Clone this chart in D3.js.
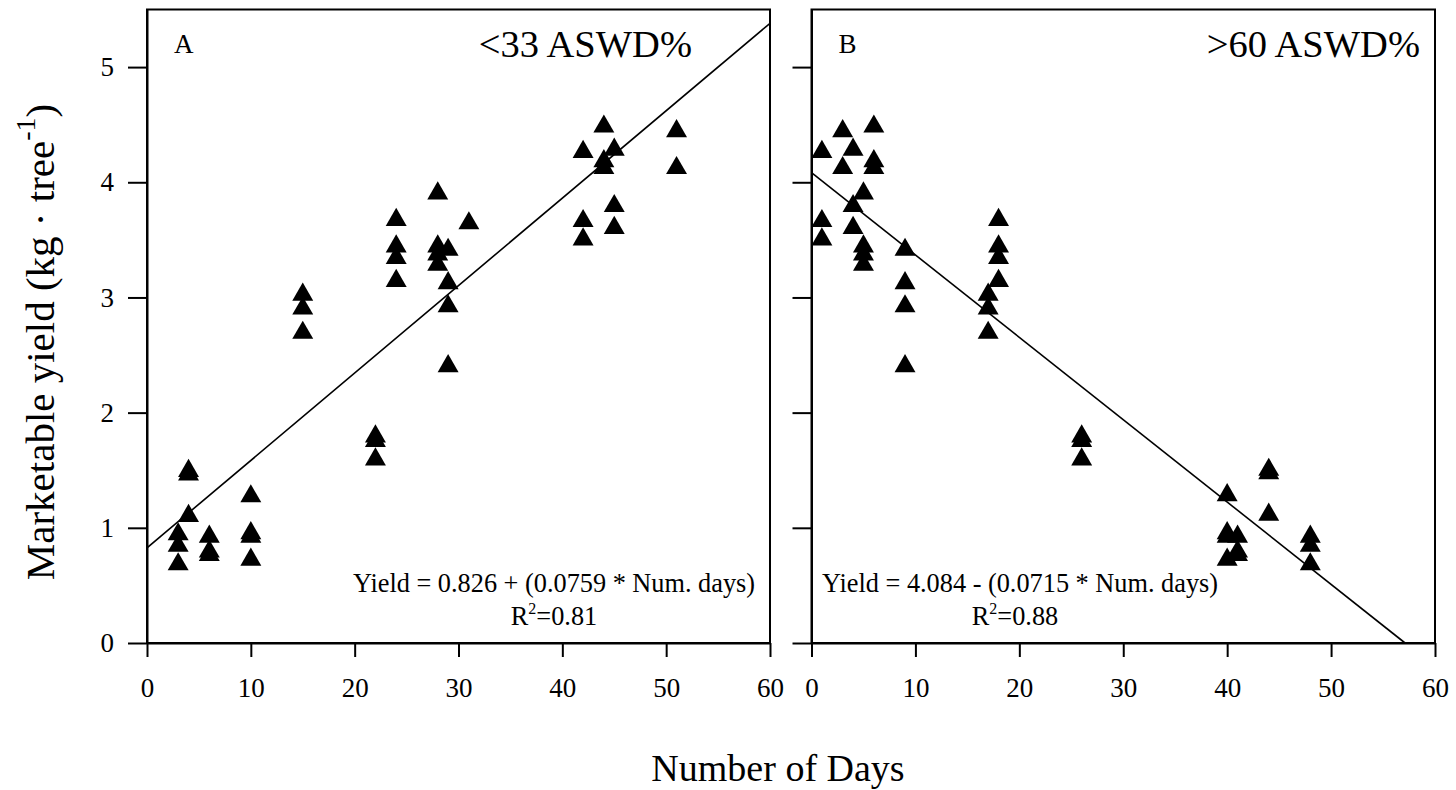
<!DOCTYPE html>
<html>
<head>
<meta charset="utf-8">
<script src="https://cdn.jsdelivr.net/npm/d3@7"></script>
<style>
  body { margin: 0; background: #fff; }
  text { font-family: "Liberation Serif", "Times New Roman", serif; fill: #000; }
</style>
</head>
<body>
<div class="chart"></div>
<script>
// panel A: <33 ASWD%
var daysA  = [3, 3, 3, 4, 4, 4, 6, 6, 6, 10, 10, 10, 10, 15, 15, 15, 22, 22, 22,
              24, 24, 24, 24, 28, 28, 28, 28, 29, 29, 29, 29, 31,
              42, 42, 42, 44, 44, 44, 45, 45, 45, 51, 51];
var yieldA = [0.97, 0.87, 0.71, 1.52, 1.49, 1.13, 0.95, 0.82, 0.79, 1.30, 0.98, 0.95, 0.75,
              3.05, 2.93, 2.72, 1.82, 1.78, 1.62,
              3.70, 3.47, 3.37, 3.17, 3.93, 3.47, 3.40, 3.31, 3.44, 3.15, 2.95, 2.43, 3.67,
              4.29, 3.69, 3.53, 4.51, 4.21, 4.15, 4.31, 3.82, 3.63, 4.47, 4.15];

// panel B: >60 ASWD%
var daysB  = [1, 1, 1, 3, 3, 4, 4, 4, 5, 5, 5, 5, 6, 6, 6, 9, 9, 9, 9,
              17, 17, 17, 18, 18, 18, 18, 26, 26, 26,
              40, 40, 40, 40, 41, 41, 41, 44, 44, 44, 48, 48, 48];
var yieldB = [4.29, 3.69, 3.53, 4.47, 4.15, 4.31, 3.82, 3.63, 3.93, 3.47, 3.40, 3.31,
              4.51, 4.21, 4.15, 3.44, 3.15, 2.95, 2.43,
              3.05, 2.93, 2.72, 3.70, 3.47, 3.37, 3.17, 1.82, 1.78, 1.62,
              1.31, 0.98, 0.95, 0.75, 0.95, 0.82, 0.79, 1.53, 1.50, 1.14, 0.95, 0.87, 0.71];

var panelLetters = ["A", "B"];
var panelTitles = ["<33 ASWD%", ">60 ASWD%"];
var intercepts = [0.826, 4.084];
var slopes = [0.0759, -0.0715];
var equations = ["Yield = 0.826 + (0.0759 * Num. days)", "Yield = 4.084 - (0.0715 * Num. days)"];
var r2Values = ["0.81", "0.88"];

var xTicks = [0, 10, 20, 30, 40, 50, 60];
var yTicks = [0, 1, 2, 3, 4, 5];

var width = 1456, height = 790,
    plot_top = 9.5, plot_bottom = 643,
    panel_lefts = [147, 811.5],
    panel_rights = [770, 1435],
    eq_centers = [554, 1020];

var svg = d3.select(".chart")
    .append("svg")
    .attr("width", width)
    .attr("height", height);

var y = d3.scaleLinear().domain([0, 5.5]).range([plot_bottom, plot_top]);

var triangle = d3.symbol().type(d3.symbolTriangle).size(190);
var tri_shift = Math.sqrt(190 / (Math.sqrt(3) * 3)) / 2;

var panels = [
    { days: daysA, yields: yieldA },
    { days: daysB, yields: yieldB }
];

panels.forEach(function (p, i) {
    var x = d3.scaleLinear().domain([0, 60]).range([panel_lefts[i], panel_rights[i]]);
    var g = svg.append("g");

    // frame
    g.append("rect")
        .attr("x", panel_lefts[i])
        .attr("y", plot_top)
        .attr("width", panel_rights[i] - panel_lefts[i])
        .attr("height", plot_bottom - plot_top)
        .attr("fill", "none")
        .attr("stroke", "#000")
        .attr("stroke-width", 2);

    var xAxis = g.append("g")
        .attr("transform", "translate(0," + plot_bottom + ")")
        .call(d3.axisBottom(x).tickValues(xTicks).tickSize(14).tickPadding(21).tickSizeOuter(0));
    xAxis.selectAll("text").attr("font-size", 27);

    var yAxis = g.append("g")
        .attr("transform", "translate(" + panel_lefts[i] + ",0)")
        .call(d3.axisLeft(y).tickValues(yTicks).tickSize(19).tickPadding(14).tickSizeOuter(0)
            .tickFormat(i === 0 ? d3.format("d") : ""));
    yAxis.selectAll("text").attr("font-size", 27);

    g.selectAll(".domain").attr("stroke-width", 2);
    g.selectAll(".tick line").attr("stroke-width", 2);

    // regression line, stopped at the axes
    var x_end = Math.min(60, slopes[i] < 0 ? -intercepts[i] / slopes[i] : 60);
    g.append("line")
        .attr("x1", x(0))
        .attr("y1", y(intercepts[i]))
        .attr("x2", x(x_end))
        .attr("y2", y(intercepts[i] + slopes[i] * x_end))
        .attr("stroke", "#000")
        .attr("stroke-width", 1.6);

    g.selectAll("path.pt")
        .data(p.days)
        .enter()
        .append("path")
        .attr("class", "pt")
        .attr("d", triangle)
        .attr("fill", "#000")
        .attr("transform", function (d, j) {
            return "translate(" + x(d) + "," + (y(p.yields[j]) + tri_shift) + ")";
        });

    g.append("text")
        .attr("x", panel_lefts[i] + 27)
        .attr("y", 52.5)
        .attr("font-size", 27)
        .text(panelLetters[i]);

    g.append("text")
        .attr("x", i === 0 ? 692 : 1420)
        .attr("y", 57)
        .attr("text-anchor", "end")
        .attr("font-size", 38.5)
        .text(panelTitles[i]);

    g.append("text")
        .attr("x", eq_centers[i])
        .attr("y", 592)
        .attr("text-anchor", "middle")
        .attr("font-size", 26.3)
        .text(equations[i]);

    var r2 = g.append("text")
        .attr("x", eq_centers[i] - (i === 0 ? 0 : 5))
        .attr("y", 625)
        .attr("text-anchor", "middle")
        .attr("font-size", 26.3);
    r2.append("tspan").text("R");
    r2.append("tspan").attr("font-size", 16).attr("dy", -11).text("2");
    r2.append("tspan").attr("dy", 11).text("=" + r2Values[i]);
});

svg.append("text")
    .attr("x", 778)
    .attr("y", 781)
    .attr("text-anchor", "middle")
    .attr("font-size", 38)
    .text("Number of Days");

var ylab = svg.append("text")
    .attr("transform", "translate(54,342) rotate(-90)")
    .attr("text-anchor", "middle")
    .attr("font-size", 41);
ylab.append("tspan").text("Marketable yield (kg \u00b7 tree");
ylab.append("tspan").attr("font-size", 28).attr("dy", -19).text("-1");
ylab.append("tspan").attr("dy", 19).text(")");
</script>
</body>
</html>
